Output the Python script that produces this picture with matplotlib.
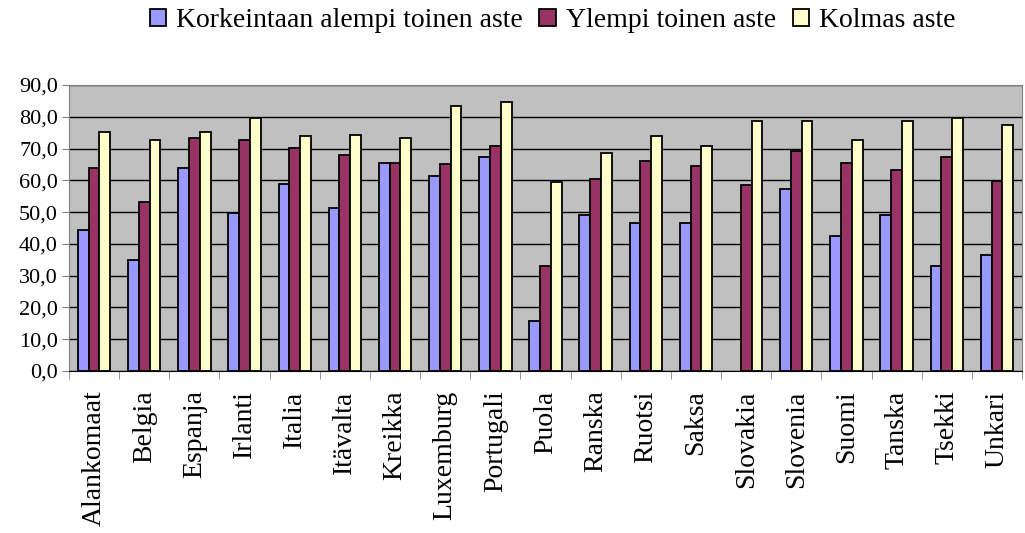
import numpy as np
import matplotlib.pyplot as plt

maat = ['Alankomaat', 'Belgia', 'Espanja', 'Irlanti', 'Italia', 'Itävalta',
        'Kreikka', 'Luxemburg', 'Portugali', 'Puola', 'Ranska', 'Ruotsi',
        'Saksa', 'Slovakia', 'Slovenia', 'Suomi', 'Tanska', 'Tsekki', 'Unkari']
# Slovakia: no value for the first series
alempi = [44.3, 34.8, 63.8, 49.6, 59.0, 51.3, 65.4, 61.4, 67.4, 15.8, 49.0,
          46.6, 46.6, np.nan, 57.3, 42.5, 49.0, 32.9, 36.6]
ylempi = [63.8, 53.2, 73.3, 72.7, 70.3, 68.0, 65.4, 65.0, 70.8, 32.9, 60.3,
          66.2, 64.4, 58.4, 69.3, 65.6, 63.3, 67.4, 59.7]
kolmas = [75.1, 72.7, 75.1, 79.7, 73.9, 74.4, 73.2, 83.4, 84.5, 59.6, 68.6,
          73.9, 70.8, 78.7, 78.7, 72.7, 78.7, 79.7, 77.4]
sarjat = ['Korkeintaan alempi toinen aste', 'Ylempi toinen aste', 'Kolmas aste']
varit = ['#9999FF', '#993366', '#FFFFCC']

plt.rcParams['font.family'] = ['Liberation Serif', 'DejaVu Serif']

fig = plt.figure(figsize=(10.25, 5.33), dpi=100)
ax = fig.add_axes([69/1025, 1-371/533, (1022-69)/1025, (371-85)/533])
ax.set_facecolor('#C0C0C0')

x = np.arange(len(maat))
w = 0.215
for i, (vals, nimi, c) in enumerate(zip([alempi, ylempi, kolmas], sarjat, varit)):
    ax.bar(x + (i - 1) * w, vals, width=w, color=c, edgecolor='black',
           linewidth=1.3, label=nimi, zorder=3)

ax.set_xlim(-0.5, len(maat) - 0.5)
ax.set_ylim(0, 90)
ax.set_yticks(np.arange(0, 91, 10))
ax.set_yticklabels([f'{v:.1f}'.replace('.', ',') for v in np.arange(0, 91, 10)],
                   fontsize=16)
ax.yaxis.grid(True, color='black', linewidth=1, zorder=1)
ax.set_axisbelow(True)

ax.set_xticks(x)
ax.set_xticklabels(maat, rotation=90, fontsize=20)
ax.tick_params(axis='x', length=0, pad=14)
ax.set_xticks(np.arange(-0.5, len(maat), 1), minor=True)
ax.tick_params(axis='x', which='minor', length=6, color='#808080')
ax.tick_params(axis='y', length=5, color='#808080', pad=3)

for s in ['top', 'right', 'left']:
    ax.spines[s].set_color('#808080')
ax.spines['bottom'].set_color('black')

fig.legend(loc='center', bbox_to_anchor=(0.539, 0.961), ncol=3, frameon=False,
           fontsize=20, handlelength=0.6, handleheight=0.6, handletextpad=0.35,
           columnspacing=0.6)

fig.savefig('out.png', dpi=100)
